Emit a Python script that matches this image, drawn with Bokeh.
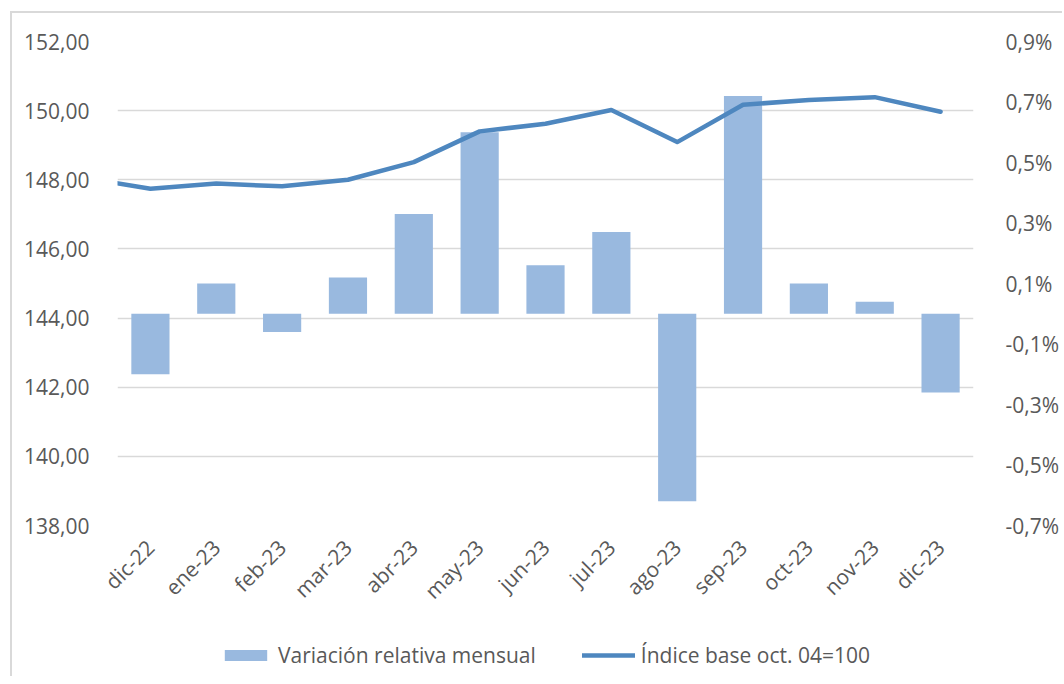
import math
from bokeh.plotting import figure
from bokeh.layouts import column
from bokeh.models import (Range1d, LinearAxis, FixedTicker, CustomJSTickFormatter,
                          Legend, LegendItem)
from bokeh.embed import file_html
from bokeh.resources import INLINE

# ---- data ----
categories = ["dic-22", "ene-23", "feb-23", "mar-23", "abr-23", "may-23", "jun-23",
              "jul-23", "ago-23", "sep-23", "oct-23", "nov-23", "dic-23"]
variacion = [-0.20, 0.10, -0.06, 0.12, 0.33, 0.60, 0.16, 0.27, -0.62, 0.72, 0.10, 0.04, -0.26]
# index values; the first one (nov-22) lies just outside the visible range
indice_prev = 148.06
indice = [147.74, 147.89, 147.81, 148.00, 148.51, 149.40, 149.62, 150.02, 149.09,
          150.17, 150.31, 150.39, 149.97]
left_ticks = [138, 140, 142, 144, 146, 148, 150, 152]
right_ticks = [-0.7, -0.5, -0.3, -0.1, 0.1, 0.3, 0.5, 0.7, 0.9]
series_names = ["Variación relativa mensual", "Índice base oct. 04=100"]

FONT = "Open Sans"
FS = "21px"
TXT = "#595959"
GRID = "#d9d9d9"
BAR = "#99b9df"
LINE = "#4e87bf"
W = 1050

x_idx = list(range(len(categories)))
lx = [-1] + x_idx
ly = [indice_prev] + indice

p = figure(width=W, height=607, output_backend="svg", toolbar_location=None,
           x_range=Range1d(-0.5, len(categories) - 0.5), y_range=Range1d(138, 152),
           min_border_left=105, min_border_right=87, min_border_top=28, min_border_bottom=95)
p.outline_line_color = None
p.background_fill_color = "white"
p.border_fill_color = "white"

p.extra_y_ranges = {"pct": Range1d(-0.7, 0.9)}

# bars (right axis)
bars = p.vbar(x=x_idx, top=variacion, bottom=0, width=0.58, y_range_name="pct",
              fill_color=BAR, line_color=None)

# line (left axis)
line = p.line(lx, ly, line_color=LINE, line_width=4.5, line_cap="round", line_join="round")

# left axis
yax = p.yaxis[0]
yax.ticker = FixedTicker(ticks=left_ticks)
yax.formatter = CustomJSTickFormatter(code="return tick.toFixed(2).replace('.', ',');")
yax.axis_line_color = None
yax.major_tick_line_color = None
yax.minor_tick_line_color = None
yax.major_label_text_font = FONT
yax.major_label_text_font_size = FS
yax.major_label_text_color = TXT
yax.major_label_standoff = 22

# right axis
rax = LinearAxis(y_range_name="pct", ticker=FixedTicker(ticks=right_ticks),
                 formatter=CustomJSTickFormatter(code="return tick.toFixed(1).replace('.', ',') + '%';"))
rax.axis_line_color = None
rax.major_tick_line_color = None
rax.minor_tick_line_color = None
rax.major_label_text_font = FONT
rax.major_label_text_font_size = FS
rax.major_label_text_color = TXT
rax.major_label_standoff = 26
p.add_layout(rax, "right")

# x axis
xax = p.xaxis[0]
xax.ticker = FixedTicker(ticks=x_idx)
xax.major_label_overrides = {i: c for i, c in enumerate(categories)}
xax.axis_line_color = None
xax.major_tick_line_color = None
xax.minor_tick_line_color = None
xax.major_label_orientation = math.pi / 4
xax.major_label_text_font = FONT
xax.major_label_text_font_size = FS
xax.major_label_text_color = TXT
xax.major_label_standoff = 12

p.xgrid.grid_line_color = None
p.ygrid.ticker = FixedTicker(ticks=left_ticks)
p.ygrid.grid_line_color = GRID
p.ygrid.grid_line_width = 1.5

# ---- legend strip: same series, drawn outside its visible range so only the legend shows ----
pl = figure(width=W, height=56, output_backend="svg", toolbar_location=None,
            x_range=Range1d(100, 101), y_range=Range1d(1000, 1001),
            min_border=0, x_axis_location=None, y_axis_location=None)
pl.outline_line_color = None
pl.xgrid.visible = False
pl.ygrid.visible = False
lb = pl.vbar(x=x_idx, top=variacion, bottom=0, width=0.58, fill_color=BAR, line_color=None)
ll = pl.line(lx, ly, line_color=LINE, line_width=4.5, line_cap="round")
legend = Legend(items=[LegendItem(label=series_names[0], renderers=[lb]),
                       LegendItem(label=series_names[1], renderers=[ll])],
                orientation="horizontal", location=(102, 7),
                glyph_width=53, glyph_height=14, label_standoff=6, spacing=46,
                padding=0, margin=0, border_line_color=None, background_fill_alpha=0,
                label_text_font=FONT, label_text_font_size=FS, label_text_color=TXT)
pl.add_layout(legend, "center")

layout = column(p, pl, spacing=0)
layout.styles = {"margin-left": "10px", "margin-top": "11px",
                 "border-left": "2px solid #d9d9d9", "border-top": "2px solid #d9d9d9"}

open("out.html", "w").write(file_html(layout, INLINE))
